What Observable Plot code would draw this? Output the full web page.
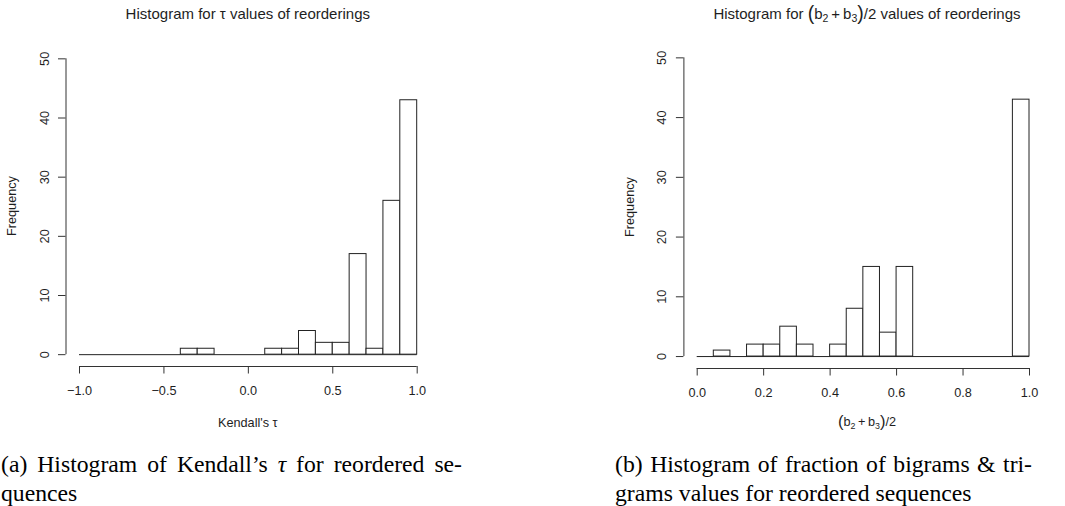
<!DOCTYPE html>
<html><head><meta charset="utf-8">
<script src="https://cdn.jsdelivr.net/npm/d3@7"></script>
<script src="https://cdn.jsdelivr.net/npm/@observablehq/plot@0.6"></script>
<style>
body{margin:0;background:#fff;}
#root{position:relative;width:1065px;height:506px;overflow:hidden;background:#fff;font-family:"Liberation Sans",Arial,sans-serif;color:#1e1e1e;}
.abs{position:absolute;white-space:nowrap;}
.t{font-size:15px;line-height:15px;transform:translateX(-50%);}
.lab{font-size:12.7px;line-height:12.7px;transform:translateX(-50%);}
.ylab{font-size:12.7px;line-height:12.7px;transform:translate(-50%,-50%) rotate(-90deg);}
.cap{font-family:"Liberation Serif","Times New Roman",serif;font-size:23.7px;line-height:29.4px;color:#000;}
.just{text-align:justify;text-align-last:justify;white-space:normal;}
sub{font-size:0.7em;vertical-align:-0.3em;line-height:0;}
.bp{font-size:1.3em;line-height:0;vertical-align:-0.05em;}
.svgbox{position:absolute;top:0;}
</style></head><body><div id="root"></div>
<script>
// ---- data ----
const tauBinStart = [-1.0,-0.9,-0.8,-0.7,-0.6,-0.5,-0.4,-0.3,-0.2,-0.1,0.0,0.1,0.2,0.3,0.4,0.5,0.6,0.7,0.8,0.9];
const tauCounts   = [0,0,0,0,0,0,1,1,0,0,0,1,1,4,2,2,17,1,26,43];
const tauBinWidth = 0.1;
const tauTicks = [-1.0,-0.5,0.0,0.5,1.0];
const tauTickLabels = ["\u22121.0","\u22120.5","0.0","0.5","1.0"];

const bBinStart = [0.00,0.05,0.10,0.15,0.20,0.25,0.30,0.35,0.40,0.45,0.50,0.55,0.60,0.65,0.70,0.75,0.80,0.85,0.90,0.95];
const bCounts   = [0,1,0,2,2,5,2,0,2,8,15,4,15,0,0,0,0,0,0,43];
const bBinWidth = 0.05;
const bTicks = [0.0,0.2,0.4,0.6,0.8,1.0];
const bTickLabels = ["0.0","0.2","0.4","0.6","0.8","1.0"];

const freqTicks = [0,10,20,30,40,50];

const root = document.getElementById("root");
const ink = "#222";

function rExtend(lo, hi){ const p = (hi - lo) * 0.04; return [lo - p, hi + p]; }

function hist({starts, counts, w, xTicks, xLabels, left, width, height, margins}){
  const data = starts.map((s, i) => ({x1: s, x2: s + w, n: counts[i]}));
  const xDom = rExtend(xTicks[0], xTicks[xTicks.length - 1]);
  const yDom = rExtend(freqTicks[0], freqTicks[freqTicks.length - 1]);
  const plot = Plot.plot({
    width, height,
    marginLeft: margins[0], marginRight: margins[1], marginTop: margins[2], marginBottom: margins[3],
    style: {fontFamily: '"Liberation Sans", Arial, sans-serif', fontSize: "12.7px", color: "#1e1e1e", background: "transparent", overflow: "visible"},
    x: {domain: xDom},
    y: {domain: yDom},
    marks: [
      Plot.ruleY([0], {x1: starts[0], x2: starts[starts.length - 1] + w, stroke: ink}),
      Plot.rect(data.filter(d => d.n > 0), {x1: "x1", x2: "x2", y1: 0, y2: "n", fill: "white", stroke: ink}),
      Plot.ruleX([xDom[0]], {y1: freqTicks[0], y2: freqTicks[freqTicks.length - 1], stroke: "#333"}),
      Plot.ruleY([yDom[0]], {x1: xTicks[0], x2: xTicks[xTicks.length - 1], stroke: "#333"}),
      Plot.axisY({ticks: freqTicks, tickSize: 7.5, tickPadding: 10, tickRotate: -90, textAnchor: "middle", lineAnchor: "bottom", label: null, stroke: "#333"}),
      Plot.axisX({ticks: xTicks, tickSize: 7.5, tickPadding: 11.5, tickFormat: (d) => xLabels[xTicks.indexOf(d)], label: null, stroke: "#333"})
    ]
  });
  const box = document.createElement("div");
  box.className = "svgbox";
  box.style.left = left + "px";
  box.appendChild(plot);
  root.appendChild(box);
}

hist({starts: tauBinStart, counts: tauCounts, w: tauBinWidth, xTicks: tauTicks, xLabels: tauTickLabels,
      left: 0, width: 450, height: 440, margins: [65.5, 19.8, 46.5, 74]});
hist({starts: bBinStart, counts: bCounts, w: bBinWidth, xTicks: bTicks, xLabels: bTickLabels,
      left: 560, width: 505, height: 440, margins: [123.4, 22.7, 45.4, 72]});

function addText(html, cls, styles){
  const d = document.createElement("div");
  d.className = "abs " + cls;
  d.innerHTML = html;
  Object.assign(d.style, styles);
  root.appendChild(d);
}
addText("Histogram for \u03c4 values of reorderings", "t", {left: "247.8px", top: "6.3px"});
addText('Histogram for <span class="bp">(</span>b<sub>2</sub>\u2009+\u2009b<sub>3</sub><span class="bp">)</span>/2 values of reorderings', "t", {left: "867px", top: "6.3px"});
addText("Kendall's \u03c4", "lab", {left: "247.8px", top: "417.3px"});
addText('<span class="bp">(</span>b<sub>2</sub>\u2009+\u2009b<sub>3</sub><span class="bp">)</span>/2', "lab", {left: "867px", top: "416.3px"});
addText("Frequency", "ylab", {left: "12px", top: "206.3px"});
addText("Frequency", "ylab", {left: "630px", top: "206.7px"});

addText("(a) Histogram of Kendall\u2019s <i>\u03c4</i> for reordered se-", "cap just", {left: "1px", top: "449.6px", width: "461px"});
addText("quences", "cap", {left: "1px", top: "479px"});
addText("(b) Histogram of fraction of bigrams &amp; tri-", "cap just", {left: "615px", top: "449.6px", width: "417px"});
addText("grams values for reordered sequences", "cap", {left: "615px", top: "479px"});
</script>
</body></html>
